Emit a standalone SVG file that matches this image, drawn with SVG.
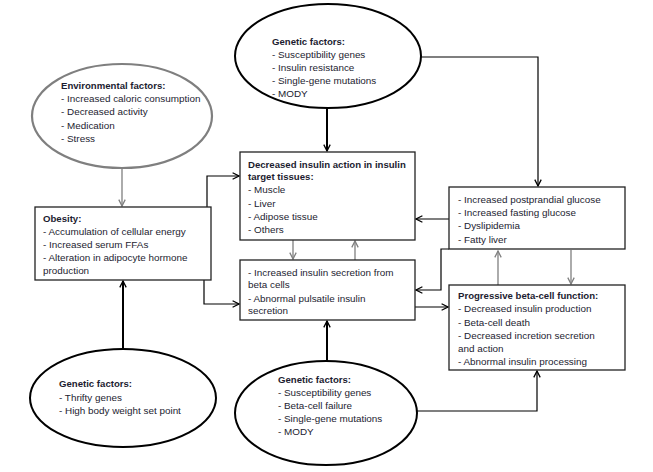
<svg xmlns="http://www.w3.org/2000/svg" width="653" height="472" viewBox="0 0 653 472">
<defs>
<marker id="ah" viewBox="0 0 10 10" refX="9" refY="5" markerWidth="8" markerHeight="8" markerUnits="userSpaceOnUse" orient="auto">
<path d="M1,1 L9,5 L1,9" fill="none" stroke="#000" stroke-width="1.6"/>
</marker>
<marker id="ahg" viewBox="0 0 10 10" refX="9" refY="5" markerWidth="8" markerHeight="8" markerUnits="userSpaceOnUse" orient="auto">
<path d="M1,1 L9,5 L1,9" fill="none" stroke="#7f7f7f" stroke-width="1.6"/>
</marker>
</defs>
<style>
text{font-family:"Liberation Sans",Arial,sans-serif;font-size:9.9px;fill:#1c1c30}
.b{font-weight:bold;font-size:9.6px}
.box{fill:#fff;stroke:#222;stroke-width:1.3}
.ell{fill:#fff;stroke:#000;stroke-width:2}
.ellg{fill:#fff;stroke:#7f7f7f;stroke-width:2.2}
.c{fill:none;stroke:#000;stroke-width:1.2;marker-end:url(#ah)}
.ct{fill:none;stroke:#000;stroke-width:2;marker-end:url(#ah)}
.cg{fill:none;stroke:#7f7f7f;stroke-width:1.3;marker-end:url(#ahg)}
</style>
<rect width="653" height="472" fill="#fff"/>
<g id="connectors">
<path class="ct" d="M327,108 V151"/>
<path class="c" d="M421,57 H538 V186"/>
<path class="cg" d="M122,168 V206"/>
<path class="c" d="M207,207 V176 H239"/>
<path class="c" d="M204,280 V304 H239"/>
<path class="cg" d="M293,240 V259"/>
<path class="cg" d="M355,260 V241"/>
<path class="c" d="M449,219 H416"/>
<path class="c" d="M449,249 H441 V290 H416"/>
<path class="c" d="M415,307 H448"/>
<path class="cg" d="M498,285 V251"/>
<path class="cg" d="M571,250 V284"/>
<path class="ct" d="M123,349 V281"/>
<path class="ct" d="M327,361 V321"/>
<path class="c" d="M417,411 H537 V371"/>
</g>
<g id="genetic-top">
<ellipse class="ell" cx="328" cy="56" rx="93" ry="52"/>
<text x="272" y="45" class="b">Genetic factors:</text>
<text x="272" y="58">- Susceptibility genes</text>
<text x="272" y="71">- Insulin resistance</text>
<text x="272" y="84">- Single-gene mutations</text>
<text x="272" y="97">- MODY</text>
</g>
<g id="environmental">
<ellipse class="ellg" cx="122" cy="116" rx="90" ry="52"/>
<text x="61" y="89" class="b">Environmental factors:</text>
<text x="61" y="102">- Increased caloric consumption</text>
<text x="61" y="115">- Decreased activity</text>
<text x="61" y="129">- Medication</text>
<text x="61" y="142">- Stress</text>
</g>
<g id="obesity">
<rect class="box" x="35" y="207" width="176" height="73"/>
<text x="43" y="222" class="b">Obesity:</text>
<text x="43" y="235">- Accumulation of cellular energy</text>
<text x="43" y="248">- Increased serum FFAs</text>
<text x="43" y="261">- Alteration in adipocyte hormone</text>
<text x="43" y="274">production</text>
</g>
<g id="insulin-action">
<rect class="box" x="240" y="152" width="175" height="88"/>
<text x="248" y="168" class="b">Decreased insulin action in insulin</text>
<text x="248" y="180" class="b">target tissues:</text>
<text x="248" y="193">- Muscle</text>
<text x="248" y="207">- Liver</text>
<text x="248" y="220">- Adipose tissue</text>
<text x="248" y="233">- Others</text>
</g>
<g id="insulin-secretion">
<rect class="box" x="240" y="260" width="175" height="60"/>
<text x="248" y="276">- Increased insulin secretion from</text>
<text x="248" y="288">beta cells</text>
<text x="248" y="302">- Abnormal pulsatile insulin</text>
<text x="248" y="314">secretion</text>
</g>
<g id="glucose">
<rect class="box" x="449" y="187" width="176" height="62"/>
<text x="458" y="203">- Increased postprandial glucose</text>
<text x="458" y="216">- Increased fasting glucose</text>
<text x="458" y="229">- Dyslipidemia</text>
<text x="458" y="243">- Fatty liver</text>
</g>
<g id="beta-cell">
<rect class="box" x="449" y="285" width="176" height="85"/>
<text x="458" y="299" class="b">Progressive beta-cell function:</text>
<text x="458" y="312">- Decreased insulin production</text>
<text x="458" y="326">- Beta-cell death</text>
<text x="458" y="339">- Decreased incretion secretion</text>
<text x="458" y="352">and action</text>
<text x="458" y="365">- Abnormal insulin processing</text>
</g>
<g id="genetic-left">
<ellipse class="ell" cx="123" cy="398" rx="93" ry="49"/>
<text x="59" y="387" class="b">Genetic factors:</text>
<text x="59" y="401">- Thrifty genes</text>
<text x="59" y="414">- High body weight set point</text>
</g>
<g id="genetic-bottom">
<ellipse class="ell" cx="326" cy="413" rx="91" ry="52"/>
<text x="278" y="383" class="b">Genetic factors:</text>
<text x="278" y="396">- Susceptibility genes</text>
<text x="278" y="409">- Beta-cell failure</text>
<text x="278" y="422">- Single-gene mutations</text>
<text x="278" y="435">- MODY</text>
</g>
</svg>
